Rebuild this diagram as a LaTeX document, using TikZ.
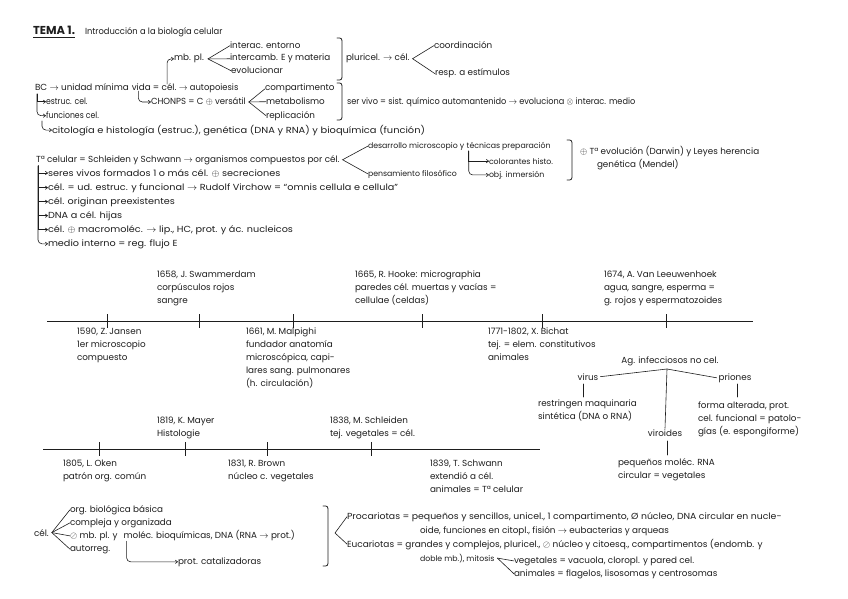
\documentclass[tikz,border=0pt]{standalone}
\usepackage{fontspec}
\usepackage{graphicx}
\setmainfont{Poppins}
\usetikzlibrary{arrows.meta}
\definecolor{ink}{HTML}{1E1E1E}
\newcommand\fs{\fontsize{8.8}{13}\selectfont}
\newcommand\fsm{\fontsize{7.8}{13}\selectfont}
\newcommand\sx[2]{\scalebox{#1}[1]{#2}}
\newcommand\twol[2]{\vtop{\hbox{#1}\hbox{#2}}}
\newcommand\threel[3]{\vtop{\hbox{#1}\hbox{#2}\hbox{#3}}}
\newcommand\fivel[5]{\vtop{\hbox{#1}\hbox{#2}\hbox{#3}\hbox{#4}\hbox{#5}}}
\tikzset{
 txt/.style={anchor=base west, inner sep=0pt, outer sep=0pt, font=\fs, text=ink},
 stxt/.style={txt, font=\fsm},
 ctr/.style={txt, anchor=base},
 ln/.style={draw=ink, line width=0.6pt, line cap=round},
 arr/.style={ln, -{Straight Barb[length=2.2pt,width=3.4pt]}},
 hook/.style={arr, rounded corners=4pt},
 axis/.style={draw=ink, line width=0.9pt},
 tick/.style={draw=ink, line width=0.8pt},
 brk/.style={ln, line width=0.8pt},
}
\begin{document}
\begin{tikzpicture}[x=1pt,y=-1pt]
\fill[white] (0,0) rectangle (848,599);
\useasboundingbox (0,0) rectangle (848,599);

% ---------- title
\node[txt, font=\bfseries\fontsize{11.5}{13}\selectfont] (tema) at (33,35) {TEMA 1.};
\draw[ink, line width=1.1pt] ([yshift=-2.4pt]tema.base west) -- ([yshift=-2.4pt]tema.base east);
\node[txt] (intro) at (85,35) {\sx{0.95}{Introducción a la biología celular}};

% ---------- BC block
\node[txt] (bc) at (35,91) {BC $\rightarrow$ unidad mínima};
\node[txt] (vida) at ([xshift=3pt]bc.base east) {vida};
\node[txt] (bceq) at ([xshift=2pt]vida.base east) {=};
\node[txt] (bccel) at ([xshift=2.5pt]bceq.base east) {cél.};
\node[txt] (bcauto) at ([xshift=2.5pt]bccel.base east) {\sx{0.95}{$\rightarrow$ autopoiesis}};

\node[txt] (mbpl) at (174,61) {mb. pl.};
\draw[hook] ([xshift=-2pt]bccel.north) |- (mbpl.west);
\coordinate (mbv) at ([xshift=4pt]mbpl.east);
\node[txt] (interac) at (230,49) {interac. entorno};
\node[txt] (intercamb) at (230,61) {intercamb. E y materia};
\node[txt] (evol) at (231,74) {evolucionar};
\draw[ln] (interac.west) -- (mbv) -- (evol.west);
\draw[ln] (mbv) -- (intercamb.west);

\draw[brk] (337,38) .. controls (342,38) .. (342,44) -- (342,74) .. controls (342,80) .. (337,80);
\node[txt] (pluri) at (346,61) {pluricel. $\rightarrow$ cél.};
\coordinate (pluv) at ([xshift=3pt]pluri.east);
\node[txt] (coord) at (434,49) {coordinación};
\node[txt] (resp) at (435,76) {resp. a estímulos};
\draw[ln] (coord.west) -- (pluv) -- (resp.west);

\node[txt] (chonps) at (151,105) {\sx{0.97}{CHONPS = C $\oplus$ versátil}};
\draw[hook] ([xshift=-3pt]vida.south) |- (chonps.west);
\coordinate (chv) at ([xshift=3pt]chonps.east);
\node[txt] (compart) at (265,91) {compartimento};
\node[txt] (metab) at (266,105) {metabolismo};
\node[txt] (replic) at (266,118) {replicación};
\draw[ln] (compart.west) -- (chv) -- (replic.west);
\draw[ln] (chv) -- (metab.west);

\draw[brk] (337,83) .. controls (342,83) .. (342,89) -- (342,114) .. controls (342,120) .. (337,120);
\node[txt] (servivo) at (347,105) {\sx{0.93}{ser vivo = sist. químico automantenido $\rightarrow$ evoluciona $\otimes$ interac. medio}};

\coordinate (bcl) at (37,94);
\node[txt] (estruc) at (46,105) {\sx{0.88}{estruc. cel.}};
\node[txt] (func) at (46,119) {\sx{0.88}{funciones cel.}};
\node[txt] (citol) at (52,133) {\sx{1.12}{citología e histología (estruc.), genética (DNA y RNA) y bioquímica (función)}};
\draw[arr] (bcl) |- (estruc.west);
\draw[hook] (bcl) |- (func.west);
\coordinate (cil) at (42,121);
\draw[hook] (cil) |- (citol.west);

% ---------- Teoria celular
\node[txt] (tc) at (36,162) {Tª celular = Schleiden y Schwann $\rightarrow$ organismos compuestos por cél.};
\coordinate (tcv) at ([xshift=3pt]tc.east);
\node[stxt] (desarr) at (368,148) {desarrollo microscopio y};
\node[stxt] (tecn) at ([xshift=2.5pt]desarr.base east) {técnicas preparación};
\node[stxt] (pens) at (368,176) {pensamiento filosófico};
\draw[ln] (desarr.west) -- (tcv) -- (pens.west);
\node[stxt] (color) at (489,164) {colorantes histo.};
\node[stxt] (obj) at (489,177) {obj. inmersión};
\coordinate (tecl) at ([xshift=2pt,yshift=-1pt]tecn.south west);
\draw[arr] (tecl) |- (color.west);
\draw[hook] (tecl) |- (obj.west);
\draw[brk] (567,140) .. controls (572,140) .. (572,146) -- (572,174) .. controls (572,180) .. (567,180);
\node[txt] (darwin) at (580,154) {$\oplus$ Tª evolución (Darwin) y Leyes herencia};
\node[txt] (mendel) at (597,167) {genética (Mendel)};

\coordinate (tcl) at (38,166);
\node[txt] (seres) at (48,176) {\sx{1.1}{seres vivos formados 1 o más cél. $\oplus$ secreciones}};
\node[txt] (celud) at (48,190) {\sx{1.1}{cél. = ud. estruc. y funcional $\rightarrow$ Rudolf Virchow = ``omnis cellula e cellula''}};
\node[txt] (orig) at (48,204) {\sx{1.1}{cél. originan preexistentes}};
\node[txt] (dnah) at (48,218) {\sx{1.1}{DNA a cél. hijas}};
\node[txt] (macro) at (48,232) {\sx{1.1}{cél. $\oplus$ macromoléc. $\rightarrow$ lip., HC, prot. y ác. nucleicos}};
\node[txt] (medio) at (48,246) {\sx{1.1}{medio interno = reg. flujo E}};
\foreach \n in {seres,celud,orig,dnah,macro}{\draw[arr] (tcl) |- (\n.west);}
\draw[hook] (tcl) |- (medio.west);

% ---------- timeline 1
\coordinate (t1a) at (47,321);
\coordinate (t1b) at (753,321);
\draw[axis] (t1a) -- (t1b);
\foreach \x in {107,199,293,422,542,666}{\draw[tick] (\x,314) -- (\x,328);}
\node[txt] (swamm) at (157,277) {\threel{1658, J. Swammerdam}{corpúsculos rojos}{sangre}};
\node[txt] (hooke) at (355,277) {\threel{1665, R. Hooke: micrographia}{paredes cél. muertas y vacías =}{cellulae (celdas)}};
\node[txt] (leeuw) at (604,277) {\threel{1674, A. Van Leeuwenhoek}{agua, sangre, esperma =}{g. rojos y espermatozoides}};
\node[txt] (jansen) at (77,334) {\threel{1590, Z. Jansen}{1er microscopio}{compuesto}};
\node[txt] (malp) at (246,334) {\fivel{1661, M. Malpighi}{fundador anatomía}{microscópica, capi-}{lares sang. pulmonares}{(h. circulación)}};
\node[txt] (bichat) at (488,334) {\threel{1771-1802, X. Bichat}{tej. = elem. constitutivos}{animales}};

% ---------- agentes infecciosos
\node[ctr] (ag) at (670,363) {Ag. infecciosos no cel.};
\coordinate (agv) at (667,369);
\node[ctr] (virus) at (588,380) {virus};
\node[ctr] (priones) at (735,380) {priones};
\node[ctr] (viroides) at (665,436) {viroides};
\draw[ln] ([xshift=2pt]virus.east) -- (agv) -- ([xshift=-2pt]priones.west);
\draw[ln] (agv) -- ([yshift=1pt]viroides.north);
\node[txt] (virtxt) at (538,406) {\twol{restringen maquinaria}{sintética (DNA o RNA)}};
\node[txt] (pritxt) at (698,408) {\threel{forma alterada, prot.}{cel. funcional = patolo-}{gías (e. espongiforme)}};
\node[txt] (vidtxt) at (618,465) {\twol{pequeños moléc. RNA}{circular = vegetales}};
\draw[ln] (583,384) -- (583,397);
\draw[ln] (737,384) -- (737,397);
\draw[ln] (667,441) -- (667,455);

% ---------- timeline 2
\coordinate (t2a) at (43,449);
\coordinate (t2b) at (540,449);
\draw[axis] (t2a) -- (t2b);
\foreach \x in {99,185,267,371}{\draw[tick] (\x,442) -- (\x,456);}
\node[txt] (mayer) at (157,423) {\twol{1819, K. Mayer}{Histologie}};
\node[txt] (schlei) at (330,423) {\twol{1838, M. Schleiden}{tej. vegetales = cél.}};
\node[txt] (oken) at (63,466) {\twol{1805, L. Oken}{patrón org. común}};
\node[txt] (brown) at (228,466) {\twol{1831, R. Brown}{núcleo c. vegetales}};
\node[txt] (schwann) at (430,466) {\threel{1839, T. Schwann}{extendió a cél.}{animales = Tª celular}};

% ---------- bottom: celula
\node[txt] (cel) at (34,536) {cél.};
\coordinate (celv) at ([xshift=3pt]cel.east);
\node[txt] (orgb) at (70,512) {org. biológica básica};
\node[txt] (compl) at (70,525) {compleja y organizada};
\node[txt] (mbp2) at (70,538) {$\oslash$ mb. pl. y};
\node[txt] (molec) at ([xshift=6pt]mbp2.base east) {moléc. bioquímicas, DNA (RNA $\rightarrow$ prot.)};
\node[txt] (autor) at (70,551) {autorreg.};
\node[txt] (protc) at (178,564) {prot. catalizadoras};
\draw[ln] (orgb.west) -- (celv) -- (autor.west);
\draw[ln] (celv) -- (compl.west);
\draw[ln] (celv) -- (mbp2.west);
\draw[hook] ([xshift=3pt,yshift=-1pt]molec.south west) |- (protc.west);

\draw[brk] (323,506) .. controls (328,506) .. (328,512) -- (328,560) .. controls (328,566) .. (323,566);
\coordinate (pev) at (335,533);
\node[txt] (proc) at (347,519) {\sx{1.06}{Procariotas = pequeños y sencillos, unicel., 1 compartimento, Ø núcleo, DNA circular en nucle-}};
\node[txt] (oide) at (420,533) {oide, funciones en citopl., fisión $\rightarrow$ eubacterias y arqueas};
\node[txt] (euc) at (347,547) {\sx{1.02}{Eucariotas = grandes y complejos, pluricel., $\oslash$ núcleo y citoesq., compartimentos (endomb. y}};
\node[stxt] (doble) at (420,561) {doble mb.), mitosis};
\node[txt] (veg) at (514,563) {vegetales = vacuola, cloropl. y pared cel.};
\node[txt] (anim) at (514,576) {animales = flagelos, lisosomas y centrosomas};
\draw[ln] (proc.west) -- (pev) -- (euc.west);
\coordinate (mitv) at ([xshift=3pt]doble.east);
\draw[ln] (mitv) -- (veg.west);
\draw[ln] (mitv) -- (anim.west);
\end{tikzpicture}
\end{document}
